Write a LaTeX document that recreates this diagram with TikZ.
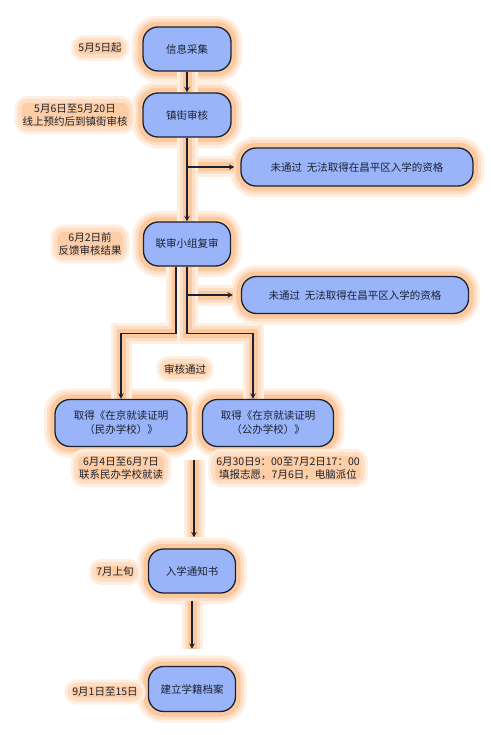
\documentclass[tikz,border=0pt]{standalone}
\usepackage{fontspec}
\setmainfont{Noto Sans CJK SC}
\usetikzlibrary{positioning,calc,backgrounds}
\definecolor{boxblue}{RGB}{153,180,248}
\definecolor{glow}{RGB}{252,192,142}
\definecolor{ink}{RGB}{28,34,50}

% all connectors, drawn once for the glow and once for the line
\newcommand\wires[1]{%
  \draw[#1,shorten >=6pt] (split1) -- (fail1.west);
  \draw[#1,shorten >=8pt] (split2) -- (fail2.west);
  \draw[#1] (collect) -- (street);
  \draw[#1] (street) -- (joint);
  \draw[#1] ([xshift=-11pt]joint.south) -- ++(0,67) -| (priv.north);
  \draw[#1] (joint.south) -- ++(0,67) -| ([xshift=-15pt]pub.north);
  \draw[#1,shorten >=11pt] (lottery) -- (lottery |- notice.north);
  \draw[#1,shorten <=7pt,shorten >=17pt] (notice) -- (archive);
}

\begin{document}
\begin{tikzpicture}[>=stealth,x=1pt,y=-1pt,
  halo/.style={draw=glow!85,line width=9pt,preaction={draw=glow!25,line width=21pt},preaction={draw=glow!50,line width=15pt}},
  stage/.style={draw=ink,line width=1.3pt,fill=boxblue,rounded corners=15pt,minimum height=44pt,minimum width=88pt,align=center,text=ink,font=\fontsize{10.5}{14}\selectfont},
  fail/.style={stage,minimum height=38pt,minimum width=232pt},
  when/.style={fill=glow!80,rounded corners=6pt,preaction={draw=glow!25,line width=14pt},preaction={draw=glow!50,line width=8pt},inner sep=1pt,align=center,text=ink,font=\fontsize{10.5}{13}\selectfont},
  flow/.style={->,draw=ink,line width=1.4pt}]
\useasboundingbox (0,0) rectangle (490,735);

% main column
\node[stage] (collect) at (187,49) {信息采集};
\node[stage] (street) at (187,115) {镇街审核};
\node[fail] (fail1) at (357,167) {未通过\ \ 无法取得在昌平区入学的资格};
\node[stage,minimum width=87pt] (joint) at (187,244) {联审小组复审};
\node[fail,minimum width=227pt,minimum height=37pt] (fail2) at (355,295) {未通过\ \ 无法取得在昌平区入学的资格};
\node[stage,minimum width=132pt,minimum height=47pt] (priv) at (121,423) {取得《在京就读证明\\（民办学校）》};
\node[stage,minimum width=131pt,minimum height=47pt] (pub) at (268,423) {取得《在京就读证明\\（公办学校）》};
\node[stage,minimum width=87pt] (notice) at (192,571) {入学通知书};
\node[stage,minimum width=87pt,minimum height=45pt] (archive) at (192,689) {建立学籍档案};

% dates
\node[when] (d1) at (100,48) {5月5日起};
\node[when] (d2) at (75,115) {5月6日至5月20日\\线上预约后到镇街审核};
\node[when] (d3) at (90,244) {6月2日前\\反馈审核结果};
\node[when] (pass) at (185,369) {审核通过};
\node[when] (d4) at (121,468) {6月4日至6月7日\\联系民办学校就读};
\node[when] (d5) at (288,468) {6月30日9：00至7月2日17：00\\填报志愿，7月6日，电脑派位};
\node[when] (d6) at (115,572) {7月上旬};
\node[when] (d7) at (105,692) {9月1日至15日};

\coordinate (split1) at (street.south |- fail1.west);
\coordinate (split2) at (joint.south |- fail2.west);
\coordinate (lottery) at (194,460);

\begin{scope}[on background layer]
  \foreach \n in {collect,street,fail1,joint,fail2,priv,pub,notice,archive}
    \draw[halo,rounded corners=15pt] (\n.south west) rectangle (\n.north east);
  \wires{halo}
  \wires{flow}
\end{scope}
\end{tikzpicture}
\end{document}
